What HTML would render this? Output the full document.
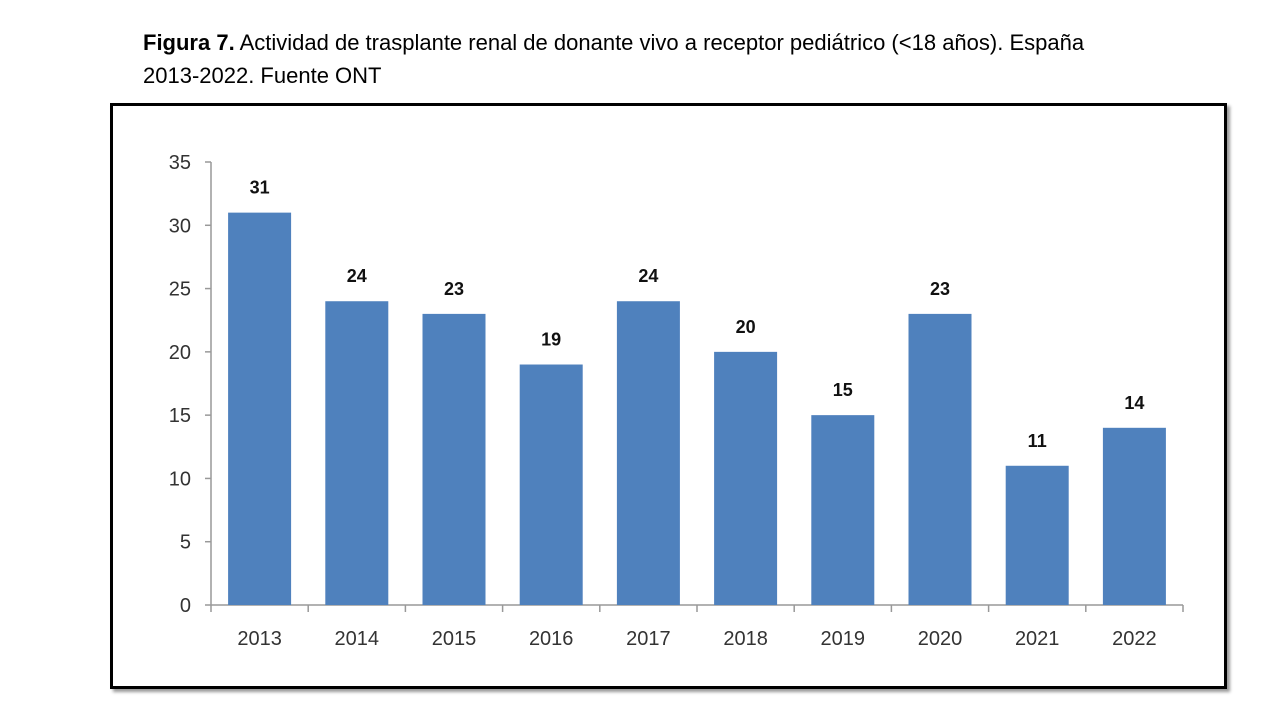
<!DOCTYPE html>
<html><head><meta charset="utf-8"><style>
body{margin:0;background:#fff;width:1280px;height:720px;overflow:hidden;font-family:"Liberation Sans",sans-serif;}
.t{position:absolute;left:143px;top:26px;font-size:22px;line-height:33px;color:#000;width:1100px;}
.box{position:absolute;left:110px;top:103px;width:1111px;height:580px;border:3px solid #000;box-shadow:3px 3px 3px #999;}
svg{position:absolute;left:0;top:0;}
</style></head><body>
<div class="t"><b>Figura 7.</b> Actividad de trasplante renal de donante vivo a receptor pediátrico (&lt;18 años). España<br>2013-2022. Fuente ONT</div>
<div class="box"></div>
<svg width="1280" height="720" id="c"></svg>
<script>
const categories=["2013","2014","2015","2016","2017","2018","2019","2020","2021","2022"];
const values=[31,24,23,19,24,20,15,23,11,14];
const yTicks=[0,5,10,15,20,25,30,35];
const x0=211,x1=1183,y0=605,y1=162,yMax=35;
const band=(x1-x0)/categories.length;
const ys=v=>y0-(v/yMax)*(y0-y1);
const svg=document.getElementById('c');const NS="http://www.w3.org/2000/svg";
function mk(t,a,txt){const e=document.createElementNS(NS,t);for(const k in a)e.setAttribute(k,a[k]);if(txt!==undefined)e.textContent=txt;svg.appendChild(e);return e;}
const ya=mk('line',{x1:x0,y1:y1,x2:x0,y2:y0,stroke:'#999','stroke-width':1.5});

const xa=mk('line',{x1:x0,y1:y0,x2:x1,y2:y0,stroke:'#999','stroke-width':1.5});

yTicks.forEach(v=>{
 mk('line',{x1:x0-6,y1:ys(v),x2:x0,y2:ys(v),stroke:'#999','stroke-width':1.5});
 const t=mk('text',{x:x0-20,y:ys(v)+7,'text-anchor':'end','font-size':20,fill:'#333'},v);
 
});
for(let i=0;i<=categories.length;i++)mk('line',{x1:x0+i*band,y1:y0,x2:x0+i*band,y2:y0+7,stroke:'#999','stroke-width':1.5});
categories.forEach((c,i)=>{
 const cx=x0+band*(i+0.5),w=63;
 const r=mk('rect',{x:cx-w/2,y:ys(values[i]),width:w,height:y0-ys(values[i]),fill:'#4f81bd'});
 
 const l=mk('text',{x:cx,y:ys(values[i])-19,'text-anchor':'middle','font-size':18,'font-weight':'bold',fill:'#111'},values[i]);
 
 const xl=mk('text',{x:cx,y:645,'text-anchor':'middle','font-size':20,fill:'#333'},c);
 
});
</script>
</body></html>
